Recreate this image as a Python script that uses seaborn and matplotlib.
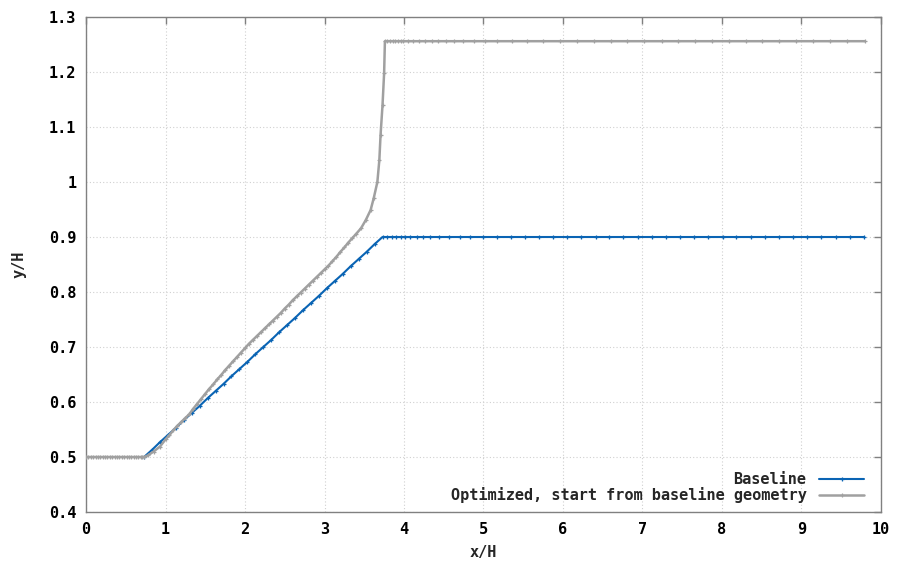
import matplotlib
matplotlib.use("Agg")
import matplotlib.pyplot as plt
import seaborn as sns
import pandas as pd

# Baseline wall profile: flat inlet, straight ramp, flat outlet
base_x = [0.73, 0.83, 0.93, 1.03, 1.13, 1.23, 1.33, 1.43, 1.53, 1.63, 1.73,
          1.83, 1.93, 2.03, 2.13, 2.23, 2.33, 2.43, 2.53, 2.63, 2.73, 2.83,
          2.93, 3.03, 3.13, 3.23, 3.33, 3.43, 3.53, 3.63, 3.73,
          3.79, 3.845, 3.90, 3.96, 4.01, 4.075, 4.16, 4.24, 4.33, 4.44, 4.56,
          4.70, 4.83, 5.00, 5.17, 5.35, 5.52, 5.70, 5.88, 6.05, 6.23, 6.41,
          6.58, 6.76, 6.94, 7.12, 7.29, 7.47, 7.65, 7.83, 8.01, 8.18, 8.36,
          8.54, 8.72, 8.90, 9.07, 9.25, 9.43, 9.61, 9.79]
base_y = [0.500, 0.513, 0.527, 0.540, 0.553, 0.567, 0.580, 0.593, 0.607,
          0.620, 0.633, 0.647, 0.660, 0.673, 0.687, 0.700, 0.713, 0.727,
          0.740, 0.753, 0.767, 0.780, 0.793, 0.807, 0.820, 0.833, 0.847,
          0.860, 0.873, 0.887, 0.900,
          0.900, 0.900, 0.900, 0.900, 0.900, 0.900, 0.900, 0.900, 0.900,
          0.900, 0.900, 0.900, 0.900, 0.900, 0.900, 0.900, 0.900, 0.900,
          0.900, 0.900, 0.900, 0.900, 0.900, 0.900, 0.900, 0.900, 0.900,
          0.900, 0.900, 0.900, 0.900, 0.900, 0.900, 0.900, 0.900, 0.900,
          0.900, 0.900, 0.900, 0.900, 0.900]

# Optimized wall profile
opt_x = [0.00, 0.03, 0.06, 0.09, 0.12, 0.15, 0.18, 0.21, 0.24, 0.27, 0.30,
         0.33, 0.36, 0.39, 0.42, 0.45, 0.48, 0.51, 0.54, 0.57, 0.60, 0.63,
         0.66, 0.69, 0.71,
         0.73, 0.78, 0.85, 0.93, 1.00, 1.05, 1.10, 1.15, 1.20, 1.25, 1.30,
         1.35, 1.40, 1.45, 1.50, 1.55, 1.60, 1.65, 1.70, 1.75, 1.80, 1.85,
         1.90, 1.95, 2.00, 2.05, 2.10, 2.15, 2.20, 2.25, 2.30, 2.35, 2.40,
         2.45, 2.50, 2.55, 2.60, 2.65, 2.70, 2.75, 2.80, 2.85, 2.90, 2.95,
         3.00, 3.05, 3.10, 3.15, 3.20, 3.25, 3.30, 3.35, 3.40, 3.46, 3.52,
         3.58, 3.62, 3.665, 3.69, 3.705, 3.73, 3.75, 3.76,
         3.79, 3.824, 3.858, 3.891, 3.925, 3.958, 3.992, 4.055, 4.117, 4.189,
         4.264, 4.348, 4.432, 4.528, 4.629, 4.746, 4.881, 5.019, 5.174, 5.354,
         5.543, 5.753, 5.962, 6.18, 6.39, 6.60, 6.81, 7.02, 7.24, 7.45, 7.66,
         7.87, 8.09, 8.30, 8.51, 8.72, 8.93, 9.15, 9.36, 9.57, 9.80]
opt_y = [0.500] * 25 + [
         0.500, 0.503, 0.510, 0.519, 0.532, 0.540, 0.549, 0.557, 0.564, 0.571,
         0.578, 0.588, 0.597, 0.606, 0.615, 0.624, 0.632, 0.641, 0.649, 0.658,
         0.666, 0.674, 0.682, 0.690, 0.698, 0.706, 0.713, 0.720, 0.727, 0.734,
         0.741, 0.748, 0.755, 0.762, 0.770, 0.777, 0.785, 0.792, 0.799, 0.806,
         0.813, 0.820, 0.827, 0.834, 0.841, 0.848, 0.856, 0.864, 0.873, 0.881,
         0.890, 0.898, 0.906, 0.916, 0.931, 0.949, 0.971, 1.000, 1.040, 1.085,
         1.140, 1.198, 1.256] + [1.256] * 41

x_ticks = [0, 1, 2, 3, 4, 5, 6, 7, 8, 9, 10]
y_ticks = [0.4, 0.5, 0.6, 0.7, 0.8, 0.9, 1.0, 1.1, 1.2, 1.3]
y_tick_labels = ["0.4", "0.5", "0.6", "0.7", "0.8", "0.9", "1", "1.1", "1.2", "1.3"]

sns.set_style("white")
plt.rcParams["font.family"] = ["DejaVu Sans Mono", "Liberation Mono"]
plt.rcParams["font.weight"] = "bold"

BLUE = "#0a64b4"
GREY = "#a0a0a0"
FRAME = "#808080"

fig = plt.figure(figsize=(8.98, 5.61), dpi=100)
ax = fig.add_axes([0.0958, 0.0873, 0.8852, 0.8824])

base_df = pd.DataFrame({"x": base_x, "y": base_y})
opt_df = pd.DataFrame({"x": opt_x, "y": opt_y})

sns.lineplot(data=base_df, x="x", y="y", ax=ax, color=BLUE, lw=1.5,
             marker="+", markersize=3.5, mew=0.9, mec=BLUE,
             estimator=None, sort=False, label="Baseline", zorder=3)
sns.lineplot(data=opt_df, x="x", y="y", ax=ax, color=GREY, lw=1.8,
             marker="+", markersize=3.5, mew=0.9, mec=GREY,
             estimator=None, sort=False,
             label="Optimized, start from baseline geometry", zorder=4)

ax.set_xlim(0, 10)
ax.set_ylim(0.4, 1.3)
ax.set_xticks(x_ticks)
ax.set_yticks(y_ticks)
ax.set_yticklabels(y_tick_labels)
ax.grid(True, color="#d0d0d0", linestyle=(0, (1, 2)), linewidth=0.8)

for s in ax.spines.values():
    s.set_visible(True)
    s.set_color(FRAME)
    s.set_linewidth(1.0)

ax.tick_params(axis="both", which="both", direction="in", length=5,
               width=1.0, color=FRAME, top=True, right=True,
               labelsize=11, labelcolor="black", pad=7)
for lab in ax.get_xticklabels() + ax.get_yticklabels():
    lab.set_fontweight("bold")

ax.set_xlabel("x/H", fontsize=11, fontweight="bold", labelpad=6)
ax.set_ylabel("y/H", fontsize=11, fontweight="bold", labelpad=16)

leg = ax.legend(loc="lower right", bbox_to_anchor=(0.987, 0.005),
                frameon=False, markerfirst=False,
                fontsize=11, handlelength=3.0, handletextpad=0.8,
                labelspacing=0.0, borderaxespad=0.0)
for t in leg.get_texts():
    t.set_fontweight("bold")

fig.savefig("out.png", dpi=100)
